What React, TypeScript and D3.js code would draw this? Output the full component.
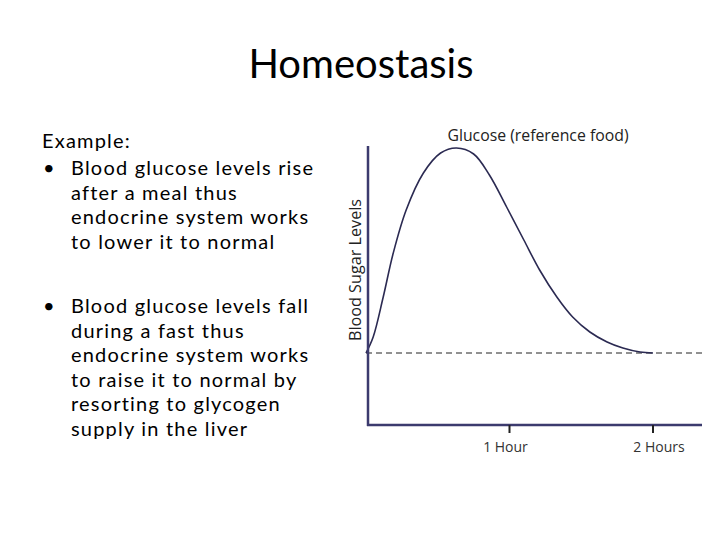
import { useEffect, useRef } from 'react';
import * as d3 from 'd3';

// hours after the meal vs. blood sugar level (arbitrary units)
const hours = [0, 0.05, 0.12, 0.19, 0.28, 0.4, 0.52, 0.63, 0.75, 0.86, 0.98, 1.1, 1.21, 1.33, 1.44, 1.56, 1.68, 1.79, 1.91, 2.0];
const sugar = [72, 88, 128, 172, 215, 252, 272, 277, 271, 250, 218, 185, 155, 128, 108, 93, 83, 77, 73, 72];
const normalLevel = 72;
const tickValues = [1, 2];
const tickLabels = ['1 Hour', '2 Hours'];

const bulletOne = ['Blood glucose levels rise', 'after a meal thus', 'endocrine system works', 'to lower it to normal'];
const bulletTwo = ['Blood glucose levels fall', 'during a fast thus', 'endocrine system works', 'to raise it to normal by', 'resorting to glycogen', 'supply in the liver'];

const AXIS = '#3c3b6e';
const CURVE = '#2b2a52';

export default function App() {
  const svgRef = useRef<SVGSVGElement>(null);

  useEffect(() => {
    if (!svgRef.current) return;
    const svg = d3.select(svgRef.current);
    svg.selectAll('*').remove();

    // Title
    svg.append('text')
      .attr('x', 361)
      .attr('y', 78)
      .attr('text-anchor', 'middle')
      .attr('font-family', 'Lato, sans-serif')
      .attr('font-size', 40)
      .attr('fill', '#000')
      .text('Homeostasis');

    // Left-hand text block
    const body = svg.append('g')
      .attr('font-family', 'Lato, sans-serif')
      .attr('font-size', 20)
      .attr('letter-spacing', 1.2)
      .attr('fill', '#000');

    body.append('text').attr('x', 42).attr('y', 148).text('Example:');

    const lh = 24.5;
    const drawBullet = (lines: string[], y0: number) => {
      body.append('text').attr('x', 43).attr('y', y0).text('•');
      lines.forEach((l, i) => {
        body.append('text').attr('x', 71).attr('y', y0 + i * lh).text(l);
      });
    };
    drawBullet(bulletOne, 175);
    drawBullet(bulletTwo, 313);

    // Chart
    const x = d3.scaleLinear().domain([0, 2]).range([366, 653]);
    const y = d3.scaleLinear().domain([0, 280]).range([425, 145]);
    const xEnd = 702;

    const g = svg.append('g');

    // dashed normal level
    g.append('line')
      .attr('x1', x(0))
      .attr('x2', xEnd)
      .attr('y1', y(normalLevel))
      .attr('y2', y(normalLevel))
      .attr('stroke', '#222')
      .attr('stroke-width', 1)
      .attr('stroke-dasharray', '6,4');

    // curve
    const pts: [number, number][] = hours.map((h, i) => [h, sugar[i]]);
    const line = d3.line<[number, number]>()
      .x(d => x(d[0]))
      .y(d => y(d[1]))
      .curve(d3.curveCatmullRom.alpha(0.5));
    g.append('path')
      .datum(pts)
      .attr('d', line)
      .attr('fill', 'none')
      .attr('stroke', CURVE)
      .attr('stroke-width', 1.6);

    // axes
    g.append('line')
      .attr('x1', 368).attr('x2', 368)
      .attr('y1', 146).attr('y2', 426)
      .attr('stroke', AXIS).attr('stroke-width', 2.5);
    g.append('line')
      .attr('x1', 367).attr('x2', xEnd)
      .attr('y1', 425).attr('y2', 425)
      .attr('stroke', AXIS).attr('stroke-width', 2.5);

    const ticks = g.append('g');
    tickValues.forEach((t, i) => {
      ticks.append('line')
        .attr('x1', x(t)).attr('x2', x(t))
        .attr('y1', 425).attr('y2', 433)
        .attr('stroke', '#222').attr('stroke-width', 2);
      ticks.append('text')
        .attr('x', x(t) + (i === 0 ? -4 : 6))
        .attr('y', 452)
        .attr('text-anchor', 'middle')
        .attr('font-family', '"Open Sans", sans-serif')
        .attr('font-size', 14)
        .attr('fill', '#333')
        .text(tickLabels[i]);
    });

    // labels
    g.append('text')
      .attr('x', 538)
      .attr('y', 141)
      .attr('text-anchor', 'middle')
      .attr('font-family', '"Open Sans", sans-serif')
      .attr('font-size', 15.8)
      .attr('fill', '#222')
      .text('Glucose (reference food)');

    g.append('text')
      .attr('transform', 'translate(361, 270) rotate(-90)')
      .attr('text-anchor', 'middle')
      .attr('font-family', '"Open Sans", sans-serif')
      .attr('font-size', 16.2)
      .attr('fill', '#222')
      .text('Blood Sugar Levels');
  }, []);

  return (
    <svg ref={svgRef} width={720} height={540} style={{ display: 'block', position: 'absolute', left: 0, top: 0, background: '#fff' }} />
  );
}
